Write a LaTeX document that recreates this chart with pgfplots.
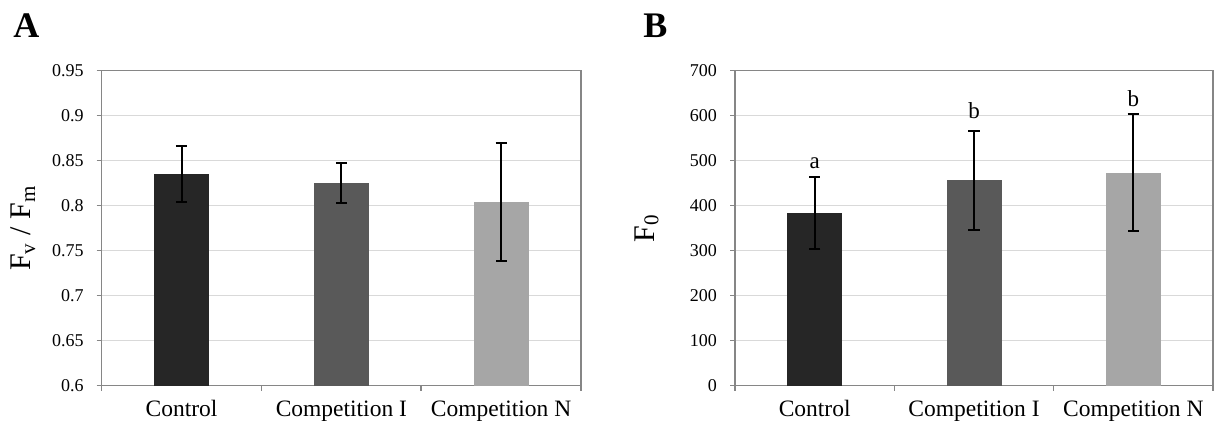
\documentclass[border=0pt]{standalone}
\usepackage{fontspec}
\setmainfont{Liberation Serif}
\usepackage{pgfplots}
\pgfplotsset{compat=1.18}
\definecolor{cA}{HTML}{262626}
\definecolor{cB}{HTML}{595959}
\definecolor{cC}{HTML}{A6A6A6}
\definecolor{gridc}{HTML}{D9D9D9}
\definecolor{axc}{HTML}{868686}
\pgfplotsset{mybar/.style={
  scale only axis, height=157.5pt,
  xmin=-0.5, xmax=2.5,
  xtick={-0.5,0.5,1.5,2.5}, xticklabels={},
  extra x ticks={0,1,2},
  extra x tick labels={Control, Competition I, Competition N},
  extra x tick style={major tick length=0pt, grid=none,
     tick label style={font=\fontsize{11.75}{14}\selectfont, text height=0.7em, text depth=0.25em, yshift=-4.7pt}},
  tick align=outside, major tick length=2.5pt, tick pos=left,
  axis line style={axc, line width=0.75pt},
  tick style={axc, line width=0.75pt},
  ymajorgrids, grid style={gridc, line width=0.75pt},
  yticklabel style={font=\fontsize{9}{10}\selectfont, xshift=-3pt},
  /pgf/number format/assume math mode=true,
  ybar, bar width=27.5pt, bar shift=0pt,
  clip=true,
  every axis plot/.append style={draw=none},
  error bars/y dir=both, error bars/y explicit,
  error bars/error bar style={black, line width=1pt},
  error bars/error mark options={rotate=90, black, mark size=2.8pt, line width=1pt},
}}
\begin{document}
\begin{tikzpicture}
\useasboundingbox (0,0) rectangle (607.5pt,214pt);
\node[anchor=base west, inner sep=0pt, font=\fontsize{18}{20}\selectfont\bfseries] at (6.5pt,195pt) {A};
\node[anchor=base west, inner sep=0pt, font=\fontsize{18}{20}\selectfont\bfseries] at (321.5pt,195pt) {B};
\begin{axis}[mybar, width=239.65pt, at={(50.85pt,21.15pt)}, anchor=south west,
  ymin=0.6, ymax=0.95, ytick={0.6,0.65,0.7,0.75,0.8,0.85,0.9,0.95},
  yticklabel style={/pgf/number format/.cd, fixed, precision=2},
  ylabel={F\textsubscript{v} / F\textsubscript{m}},
  every axis y label/.style={at={(axis description cs:-0.164,0.5)}, rotate=90, anchor=center, font=\fontsize{15}{17}\selectfont}]
\addplot[fill=cA] coordinates {(0,0.835) +- (0,0.031)};
\addplot[fill=cB] coordinates {(1,0.825) +- (0,0.022)};
\addplot[fill=cC] coordinates {(2,0.804) +- (0,0.066)};
\end{axis}
\begin{axis}[mybar, width=239pt, at={(367.5pt,21.15pt)}, anchor=south west,
  ymin=0, ymax=700, ytick={0,100,200,300,400,500,600,700},
  ylabel={F\textsubscript{0}},
  every axis y label/.style={at={(axis description cs:-0.185,0.5)}, rotate=90, anchor=center, font=\fontsize{15}{17}\selectfont}]
\addplot[fill=cA] coordinates {(0,383) +- (0,80)};
\addplot[fill=cB] coordinates {(1,457) +- (0,110)};
\addplot[fill=cC] coordinates {(2,473) +- (0,130)};
\node[anchor=base, inner sep=0pt, font=\fontsize{11.5}{13}\selectfont] at (axis cs:0,483) {a};
\node[anchor=base, inner sep=0pt, font=\fontsize{11.5}{13}\selectfont] at (axis cs:1,594) {b};
\node[anchor=base, inner sep=0pt, font=\fontsize{11.5}{13}\selectfont] at (axis cs:2,621) {b};
\end{axis}
\end{tikzpicture}
\end{document}
